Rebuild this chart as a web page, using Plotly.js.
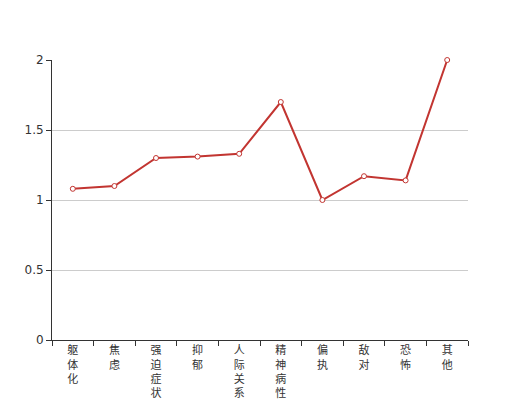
<!DOCTYPE html>
<html>
<head>
<meta charset="utf-8">
<script src="https://cdn.plot.ly/plotly-3.0.1.min.js"></script>
<style>html,body{margin:0;padding:0;background:#fff}#chart{width:520px;height:400px}</style>
</head>
<body>
<div id="chart"></div>
<script>
var categories = ['躯体化','焦虑','强迫症状','抑郁','人际关系敏感','精神病性','偏执','敌对','恐怖','其他'];
var values = [1.08, 1.10, 1.30, 1.31, 1.33, 1.70, 1.00, 1.17, 1.14, 2.00];
var yTickVals = [0, 0.5, 1, 1.5, 2];
var yTickText = ['0', '0.5', '1', '1.5', '2'];

var verticalLabels = categories.map(function(c){ return c.split('').join('<br>'); });

var trace = {
  type: 'scatter',
  mode: 'lines+markers',
  x: categories,
  y: values,
  cliponaxis: false,
  line: {color: '#c23531', width: 2},
  marker: {symbol: 'circle', size: 5, color: '#ffffff', line: {color: '#c23531', width: 1}},
  hoverinfo: 'x+y'
};

var layout = {
  width: 520, height: 400,
  margin: {l: 52, r: 52, t: 60, b: 60},
  paper_bgcolor: '#ffffff', plot_bgcolor: '#ffffff',
  showlegend: false,
  font: {family: '"Noto Sans CJK SC", "DejaVu Sans", sans-serif', color: '#333'},
  xaxis: {
    type: 'category',
    tickmode: 'array', tickvals: categories, ticktext: verticalLabels,
    tickson: 'boundaries',
    ticks: 'outside', ticklen: 5, tickcolor: '#333', tickwidth: 1,
    showline: true, linecolor: '#333', linewidth: 1,
    showgrid: false, zeroline: false,
    tickangle: 0,
    tickfont: {size: 11, color: '#333', family: '"Noto Sans CJK SC", sans-serif'},
    range: [-0.5, 9.5], fixedrange: true
  },
  yaxis: {
    range: [0, 2],
    tickmode: 'array', tickvals: yTickVals, ticktext: yTickText,
    ticks: 'outside', ticklen: 5, tickcolor: '#333', tickwidth: 1,
    showline: true, linecolor: '#333', linewidth: 1,
    showgrid: true, gridcolor: '#cccccc', gridwidth: 1,
    zeroline: false,
    tickfont: {size: 12, color: '#333', family: '"DejaVu Sans", sans-serif'},
    fixedrange: true
  }
};

Plotly.newPlot('chart', [trace], layout, {displayModeBar: false, staticPlot: true});
</script>
</body>
</html>
